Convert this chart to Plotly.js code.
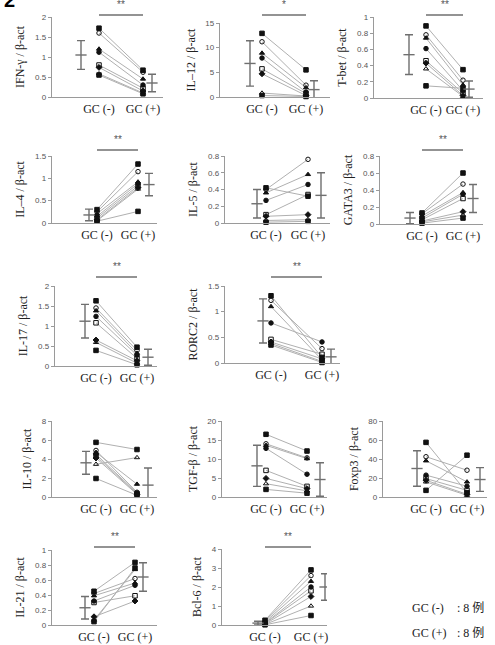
<!DOCTYPE html>
<html>
<head>
<meta charset="utf-8">
<script src="https://cdn.plot.ly/plotly-3.0.1.min.js"></script>
<style>html,body{margin:0;padding:0;background:#fff;}#chart{width:495px;height:645px;}</style>
</head>
<body>
<div id="chart"></div>
<script>
// ---------- DATA ----------
const categories = ['GC (-)', 'GC (+)'];
const legendLabels = ['GC (-)', 'GC (+)'];
const legendCounts = [': 8 例', ': 8 例'];

const ifnNeg = [1.72, 1.60, 1.20, 1.12, 0.80, 0.74, 0.58, 0.55];
const ifnPos = [0.67, 0.62, 0.45, 0.30, 0.22, 0.15, 0.10, 0.08];
const ifnMean = [1.05, 0.35];
const ifnSD = [0.36, 0.22];

const il12Neg = [12.9, 11.2, 8.9, 7.9, 5.7, 4.7, 0.8, 0.3];
const il12Pos = [5.5, 2.4, 1.9, 1.0, 0.7, 0.3, 0.2, 0.1];
const il12Mean = [6.8, 1.5];
const il12SD = [4.6, 1.8];

const tbetNeg = [0.89, 0.78, 0.74, 0.61, 0.46, 0.43, 0.36, 0.15];
const tbetPos = [0.35, 0.22, 0.16, 0.09, 0.06, 0.03, 0.02, 0.12];
const tbetMean = [0.535, 0.11];
const tbetSD = [0.245, 0.10];

const il4Neg = [0.30, 0.25, 0.21, 0.15, 0.11, 0.07, 0.05, 0.04];
const il4Pos = [1.32, 1.15, 0.92, 0.88, 0.83, 0.79, 0.76, 0.26];
const il4Mean = [0.18, 0.86];
const il4SD = [0.13, 0.25];

const il5Neg = [0.42, 0.40, 0.36, 0.27, 0.10, 0.08, 0.03, 0.01];
const il5Pos = [0.32, 0.76, 0.58, 0.46, 0.34, 0.10, 0.04, 0.02];
const il5Mean = [0.23, 0.33];
const il5SD = [0.17, 0.27];

const gata3Neg = [0.13, 0.12, 0.095, 0.07, 0.05, 0.035, 0.025, 0.01];
const gata3Pos = [0.60, 0.47, 0.37, 0.35, 0.30, 0.145, 0.105, 0.07];
const gata3Mean = [0.07, 0.30];
const gata3SD = [0.065, 0.165];

const il17Neg = [1.63, 1.45, 1.38, 1.24, 1.08, 0.65, 0.59, 0.39];
const il17Pos = [0.47, 0.39, 0.32, 0.27, 0.19, 0.13, 0.07, 0.03];
const il17Mean = [1.12, 0.22];
const il17SD = [0.42, 0.20];

const rorc2Neg = [1.31, 1.22, 1.10, 0.78, 0.46, 0.41, 0.38, 0.35];
const rorc2Pos = [0.11, 0.28, 0.06, 0.41, 0.17, 0.08, 0.03, 0.01];
const rorc2Mean = [0.82, 0.12];
const rorc2SD = [0.43, 0.15];

const il10Neg = [5.75, 4.9, 4.7, 4.5, 4.3, 4.1, 3.45, 1.95];
const il10Pos = [5.0, 0.5, 1.35, 0.42, 0.35, 0.28, 4.15, 0.18];
const il10Mean = [3.6, 1.25];
const il10SD = [1.2, 1.8];

const tgfNeg = [16.5, 14.0, 13.6, 12.8, 7.0, 4.9, 3.5, 2.0];
const tgfPos = [12.1, 10.3, 10.1, 6.0, 2.8, 2.2, 1.6, 1.0];
const tgfMean = [8.2, 4.6];
const tgfSD = [5.4, 4.4];

const foxp3Neg = [57.5, 42.4, 38.1, 23.0, 19.4, 17.6, 15.9, 7.0];
const foxp3Pos = [4.6, 28.2, 15.9, 11.3, 7.0, 2.8, 1.8, 44.0];
const foxp3Mean = [30, 18.4];
const foxp3SD = [18.7, 12.5];

const il21Neg = [0.45, 0.42, 0.39, 0.32, 0.30, 0.11, 0.065, 0.045];
const il21Pos = [0.835, 0.62, 0.56, 0.53, 0.39, 0.32, 0.74, 0.76];
const il21Mean = [0.23, 0.64];
const il21SD = [0.15, 0.19];

const bcl6Neg = [0.25, 0.20, 0.15, 0.10, 0.08, 0.05, 0.03, 0.01];
const bcl6Pos = [2.9, 2.6, 2.3, 2.0, 1.8, 1.5, 1.0, 0.5];
const bcl6Mean = [0.10, 2.0];
const bcl6SD = [0.10, 0.7];

const patientSymbols = ['square', 'circle-open', 'triangle-up', 'circle', 'square-open', 'diamond', 'triangle-up-open', 'square'];

// ---------- PANEL LAYOUT (pixel geometry) ----------
const panels = [
  {title:'IFN-γ / β-act', neg:ifnNeg, pos:ifnPos, mean:ifnMean, sd:ifnSD, ymax:2, dtick:0.5, L:52, R:163, top:17, bot:97, p1:99, p2:143, e1:81, e2:152, sig:'**', sigY:15},
  {title:'IL–12 / β-act', neg:il12Neg, pos:il12Pos, mean:il12Mean, sd:il12SD, ymax:15, dtick:5, L:220, R:330, top:23, bot:97, p1:262, p2:306, e1:250, e2:314, sig:'*', sigY:15},
  {title:'T-bet / β-act', neg:tbetNeg, pos:tbetPos, mean:tbetMean, sd:tbetSD, ymax:1, dtick:0.2, L:374, R:483, top:17, bot:98, p1:426, p2:463, e1:409, e2:469, sig:'**', sigY:15},
  {title:'IL–4 / β-act', neg:il4Neg, pos:il4Pos, mean:il4Mean, sd:il4SD, ymax:1.5, dtick:0.5, L:52, R:157, top:156, bot:223, p1:97, p2:138, e1:89, e2:149, sig:'**', sigY:150},
  {title:'IL-5 / β-act', neg:il5Neg, pos:il5Pos, mean:il5Mean, sd:il5SD, ymax:0.8, dtick:0.2, L:225, R:330, top:156, bot:223, p1:266, p2:308, e1:257, e2:321, sig:'', sigY:0},
  {title:'GATA3 / β-act', neg:gata3Neg, pos:gata3Pos, mean:gata3Mean, sd:gata3SD, ymax:0.8, dtick:0.2, L:380, R:483, top:156, bot:224, p1:422, p2:463, e1:410, e2:473, sig:'**', sigY:150},
  {title:'IL-17 / β-act', neg:il17Neg, pos:il17Pos, mean:il17Mean, sd:il17SD, ymax:2, dtick:0.5, L:55, R:157, top:286, bot:366, p1:96, p2:137, e1:85, e2:148, sig:'**', sigY:277},
  {title:'RORC2 / β-act', neg:rorc2Neg, pos:rorc2Pos, mean:rorc2Mean, sd:rorc2SD, ymax:1.5, dtick:0.5, L:225, R:340, top:286, bot:363, p1:271, p2:322, e1:263, e2:331, sig:'**', sigY:277},
  {title:'IL-10 / β-act', neg:il10Neg, pos:il10Pos, mean:il10Mean, sd:il10SD, ymax:8, dtick:2, L:52, R:157, top:421, bot:497, p1:96, p2:137, e1:86, e2:148, sig:'', sigY:0},
  {title:'TGF-β / β-act', neg:tgfNeg, pos:tgfPos, mean:tgfMean, sd:tgfSD, ymax:20, dtick:5, L:222, R:327, top:421, bot:497, p1:266, p2:307, e1:257, e2:320, sig:'', sigY:0},
  {title:'Foxp3 / β-act', neg:foxp3Neg, pos:foxp3Pos, mean:foxp3Mean, sd:foxp3SD, ymax:80, dtick:20, L:383, R:487, top:421, bot:497, p1:426, p2:467, e1:417, e2:480, sig:'', sigY:0},
  {title:'IL-21 / β-act', neg:il21Neg, pos:il21Pos, mean:il21Mean, sd:il21SD, ymax:1, dtick:0.2, L:52, R:157, top:550, bot:625, p1:94, p2:135, e1:85, e2:143, sig:'**', sigY:547},
  {title:'Bcl-6 / β-act', neg:bcl6Neg, pos:bcl6Pos, mean:bcl6Mean, sd:bcl6SD, ymax:4, dtick:1, L:222, R:327, top:549, bot:625, p1:265, p2:311, e1:258, e2:325, sig:'**', sigY:547}
];

const W = 495, H = 645;
const data = [];
const layout = {
  width: W, height: H,
  margin: {l:0, r:0, t:0, b:0},
  showlegend: false,
  paper_bgcolor: '#fff', plot_bgcolor: '#fff',
  shapes: [], annotations: []
};

const serif = 'Liberation Serif, Times New Roman, serif';
const sans = 'Liberation Sans, Arial, sans-serif';

panels.forEach((p, i) => {
  const n = i + 1;
  const sfx = n > 1 ? String(n) : '';
  const xa = 'x' + sfx, ya = 'y' + sfx;
  const u = p.p2 - p.p1;
  const x0 = 1 - (p.p1 - p.L) / u, x1 = 2 + (p.R - p.p2) / u;
  const ex1 = 1 - (p.p1 - p.e1) / u, ex2 = 2 + (p.e2 - p.p2) / u;

  layout['xaxis' + sfx] = {
    domain: [p.L / W, p.R / W], range: [x0, x1], anchor: ya,
    showline: true, linecolor: '#9a9a9a', linewidth: 1.2,
    showgrid: false, zeroline: false,
    tickvals: [1, 2], ticktext: categories, ticks: '',
    tickfont: {family: serif, size: 12, color: '#222'},
    ticklabelstandoff: 0,
    fixedrange: true
  };
  layout['yaxis' + sfx] = {
    domain: [1 - p.bot / H, 1 - p.top / H], range: [0, p.ymax], anchor: xa,
    showline: true, linecolor: '#9a9a9a', linewidth: 1.2,
    showgrid: false, zeroline: false,
    tick0: 0, dtick: p.dtick, ticks: 'outside', ticklen: 3, tickcolor: '#9a9a9a',
    tickfont: {family: sans, size: 8, color: '#555'},
    title: {text: p.title, font: {family: serif, size: 12, color: '#222'}, standoff: 7},
    fixedrange: true
  };

  const lx = [], ly = [];
  p.neg.forEach((v, k) => { lx.push(1, 2, null); ly.push(v, p.pos[k], null); });
  data.push({type: 'scatter', mode: 'lines', x: lx, y: ly, xaxis: xa, yaxis: ya,
    line: {color: '#b0b0b0', width: 1}, hoverinfo: 'skip', cliponaxis: false});

  data.push({type: 'scatter', mode: 'markers',
    x: p.neg.map(() => 1).concat(p.pos.map(() => 2)),
    y: p.neg.concat(p.pos),
    xaxis: xa, yaxis: ya, cliponaxis: false,
    marker: {symbol: patientSymbols.concat(patientSymbols), size: 4.5, color: '#111', line: {color: '#111', width: 1}}});

  data.push({type: 'scatter', mode: 'markers', x: [ex1, ex2], y: p.mean,
    xaxis: xa, yaxis: ya, cliponaxis: true,
    error_y: {type: 'data', array: p.sd, visible: true, width: 4, thickness: 1.4, color: '#6f6f6f'},
    marker: {symbol: 'line-ew', size: 8, color: '#6f6f6f', line: {color: '#6f6f6f', width: 1.4}}});

  if (p.sig) {
    layout.shapes.push({type: 'line', xref: xa, yref: 'paper', x0: 1, x1: 2,
      y0: 1 - p.sigY / H, y1: 1 - p.sigY / H, line: {color: '#6f6f6f', width: 1.4}});
    layout.annotations.push({xref: xa, yref: 'paper', x: 1.5, y: 1 - (p.sigY - 3) / H,
      yanchor: 'bottom', text: p.sig, showarrow: false,
      font: {family: sans, size: 10, color: '#555'}});
  }
});

// legend text
legendLabels.forEach((lab, k) => {
  const yy = 1 - (608 + k * 25) / H;
  layout.annotations.push({xref: 'paper', yref: 'paper', x: 410 / W, y: yy, xanchor: 'left', yanchor: 'middle',
    text: lab, showarrow: false, font: {family: serif, size: 12, color: '#222'}});
  layout.annotations.push({xref: 'paper', yref: 'paper', x: 455 / W, y: yy, xanchor: 'left', yanchor: 'middle',
    text: legendCounts[k], showarrow: false, font: {family: serif + ', Noto Sans CJK SC', size: 12, color: '#222'}});
});

// panel label
layout.annotations.push({xref: 'paper', yref: 'paper', x: 2 / W, y: 1, xanchor: 'left', yanchor: 'middle',
  text: '<b>2</b>', showarrow: false, font: {family: sans, size: 20, color: '#000'}});

Plotly.newPlot('chart', data, layout, {displayModeBar: false, staticPlot: true});
</script>
</body>
</html>
